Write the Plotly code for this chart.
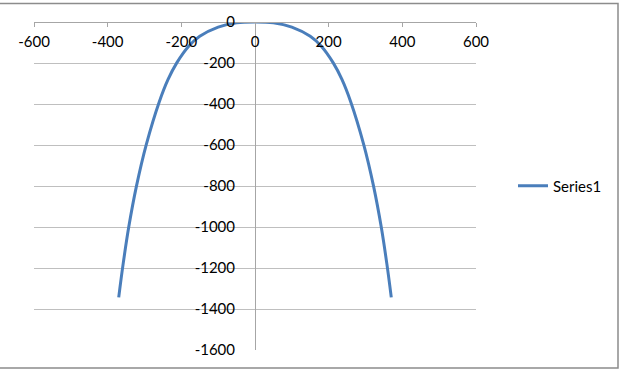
import plotly.graph_objects as go

# Right half of the curve (left half mirrors it)
x_right = [0, 50, 100, 150, 180, 212, 236, 260, 295, 322, 343, 358, 370]
y_right = [0, -4, -25, -70, -118, -198, -280, -390, -597, -802, -1003, -1180, -1343]

x_values = [-v for v in reversed(x_right[1:])] + x_right
y_values = list(reversed(y_right[1:])) + y_right

x_ticks = [-600, -400, -200, 0, 200, 400, 600]
y_ticks = [0, -200, -400, -600, -800, -1000, -1200, -1400, -1600]
series_name = "Series1"

FONT = "Lato"
W, H = 620, 370
L, R, T, B = 34, 144, 20, 20
pw, ph = W - L - R, H - T - B

fig = go.Figure()
fig.add_trace(go.Scatter(
    x=x_values, y=y_values, mode="lines", name=series_name,
    line=dict(color="#4A7EBB", width=3, shape="spline", smoothing=1.0),
))

fig.update_layout(
    width=W, height=H,
    margin=dict(l=L, r=R, t=T, b=B),
    paper_bgcolor="white", plot_bgcolor="white",
    font=dict(family=FONT, size=15, color="#000000"),
    xaxis=dict(
        range=[-600, 600], tickvals=x_ticks, ticktext=[str(v) for v in x_ticks],
        anchor="free", position=1, side="bottom",
        showline=True, linecolor="#A6A6A6", linewidth=1,
        ticks="outside", ticklen=4, tickcolor="#A6A6A6",
        showgrid=False, zeroline=False, ticklabelstandoff=2,
        tickfont=dict(family=FONT, size=15, color="#000000"),
    ),
    yaxis=dict(
        range=[-1600, 0], tickvals=y_ticks, ticktext=[str(v) for v in y_ticks],
        anchor="free", position=0.5, side="left",
        showline=True, linecolor="#A6A6A6", linewidth=1,
        ticks="", showgrid=True, gridcolor="#BFBFBF", gridwidth=1,
        zeroline=False, ticklabelstandoff=17,
        tickfont=dict(family=FONT, size=15, color="#000000"),
    ),
    legend=dict(
        x=(513 - L) / pw, xanchor="left", y=0.5, yanchor="middle",
        font=dict(family=FONT, size=15, color="#000000"),
        bgcolor="rgba(0,0,0,0)", borderwidth=0,
    ),
    showlegend=True,
)

# Chart-area border (top, right, bottom visible in the reference)
def px_to_paper_x(p):
    return (p - L) / pw

def px_to_paper_y(p):
    return (H - B - p) / ph

fig.add_shape(
    type="rect", xref="paper", yref="paper",
    x0=px_to_paper_x(-3), x1=px_to_paper_x(618),
    y0=px_to_paper_y(368), y1=px_to_paper_y(1.5),
    line=dict(color="#8C8C8C", width=1.5), fillcolor="rgba(0,0,0,0)", layer="below",
)

fig.write_html("out.html")
